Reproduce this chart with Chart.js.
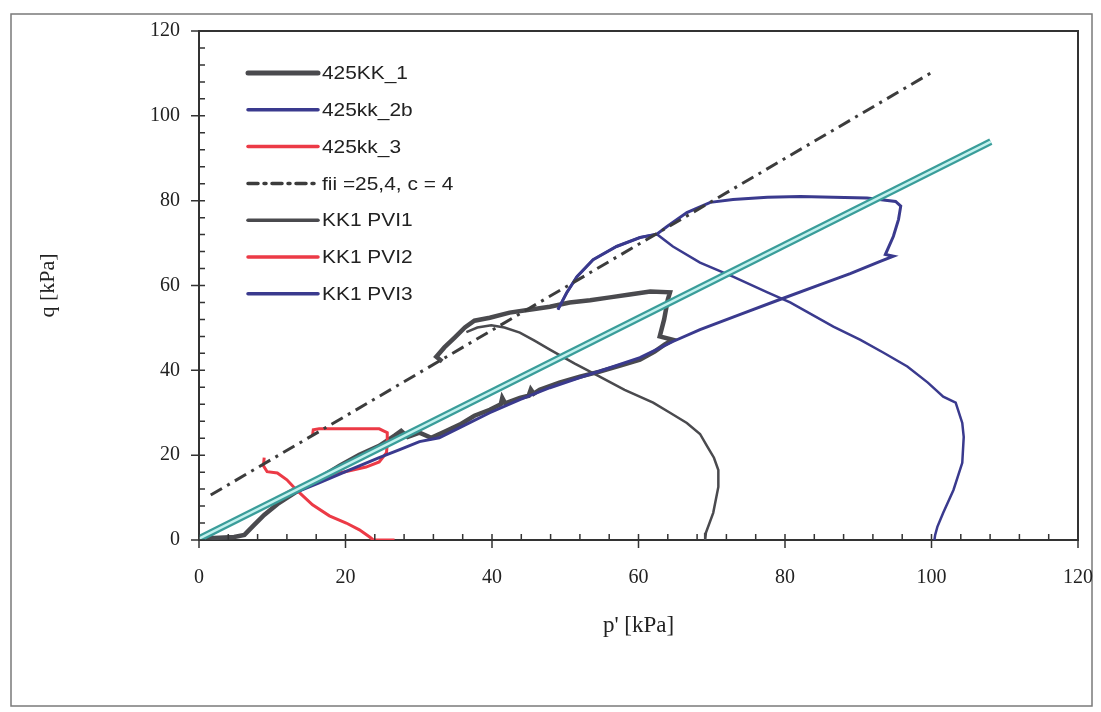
<!DOCTYPE html>
<html>
<head>
<meta charset="utf-8">
<script src="https://cdn.jsdelivr.net/npm/chart.js@4/dist/chart.umd.min.js"></script>
<style>
  html, body { margin: 0; padding: 0; background: #fff; }
  #wrap { width: 1101px; height: 712px; }
</style>
</head>
<body>
<div id="wrap"><canvas id="chart" width="1101" height="712"></canvas></div>
<script>
// p' [kPa], q [kPa] pairs
const kk1_425 = [[0.7,0.7],[2.1,0.5],[4.8,0.7],[6.2,1.2],[7.5,3.5],[8.9,5.9],[10.9,8.7],[13.7,11.8],[16.4,14.6],[19.2,17.5],[21.9,20.1],[24.6,22.2],[26.7,24.6],[27.6,25.7],[28.5,24.3],[30.1,25.3],[31.7,24.1],[33.5,25.5],[35.6,27.2],[37.6,29.3],[39.7,30.7],[41.2,32.0],[41.4,33.5],[41.8,32.2],[43.8,33.5],[45.0,34.0],[45.3,35.5],[45.7,34.5],[46.5,35.4],[49.2,37.1],[52.0,38.5],[54.7,39.7],[57.5,41.1],[60.2,42.5],[62.2,44.4],[63.6,46.1],[64.7,47.2],[62.9,48.0],[63.5,52.0],[64.0,56.7],[64.3,58.4],[61.6,58.6],[58.8,57.9],[56.1,57.2],[53.4,56.5],[50.6,56.0],[47.9,55.0],[45.1,54.3],[42.4,53.6],[39.7,52.4],[37.6,51.7],[36.3,50.1],[34.9,47.7],[33.5,45.4],[32.4,43.2],[33.2,42.1]];
const kk2b_425 = [[0,0],[2.1,1.7],[4.8,4.3],[8.2,7.6],[12.3,10.6],[16.4,13.5],[20.5,16.5],[24.6,19.4],[27.4,21.3],[30.1,23.2],[32.8,24.1],[35.6,26.5],[39.7,30.0],[43.8,33.1],[47.9,35.9],[52.0,38.3],[56.1,40.6],[60.2,43.0],[64.7,46.8],[68.4,49.6],[73.9,53.2],[79.3,56.7],[84.8,60.2],[88.9,62.8],[93.0,65.7],[94.8,66.9],[93.7,67.3],[94.8,71.6],[95.5,75.6],[95.8,78.7],[95.1,79.8],[91.2,80.6],[86.6,80.8],[82.1,81.0],[77.6,80.8],[72.9,80.3],[69.8,79.6],[66.6,77.2],[63.9,73.9],[62.5,72.1],[60.2,71.3],[57.0,69.2],[53.8,66.1],[51.6,62.1],[50.2,58.3],[49.0,54.3]];
const kk3_425 = [[8.9,19.4],[8.8,17.5],[9.3,16.1],[10.7,15.8],[12.0,14.2],[13.3,11.8],[15.5,8.3],[17.8,5.7],[20.1,4.0],[21.9,2.4],[23.3,0.7],[23.8,0],[26.7,0]];
const fiiLine = [[1.6,10.6],[100.3,110.5]];
const pvi1 = [[36.5,49.0],[38.0,50.1],[39.9,50.6],[41.7,50.1],[43.8,48.9],[45.8,47.0],[47.9,44.9],[51.3,41.6],[54.7,38.5],[58.1,35.4],[62.0,32.4],[64.3,30.0],[66.6,27.6],[68.4,25.0],[69.4,22.0],[70.3,19.4],[70.9,16.5],[70.9,12.5],[70.2,6.4],[69.2,1.7],[69.1,0]];
const pvi2 = [[0.7,0.5],[2.3,2.4],[5.1,4.7],[8.6,7.8],[12.7,11.8],[16.4,14.2],[19.2,15.8],[22.8,17.2],[24.6,18.4],[25.6,20.6],[25.7,22.9],[25.7,25.3],[24.6,26.2],[21.9,26.2],[19.2,26.2],[16.4,26.2],[15.6,26.0],[15.5,24.6]];
const pvi3 = [[49.0,54.3],[50.2,58.3],[51.6,62.1],[53.8,66.1],[57.0,69.2],[60.2,71.3],[62.5,72.1],[64.7,69.2],[68.4,65.4],[72.9,62.1],[77.6,58.4],[80.7,56.0],[86.6,50.3],[90.3,47.2],[93.4,44.2],[96.7,40.9],[99.5,37.1],[101.6,33.8],[103.3,32.4],[104.2,27.6],[104.4,24.3],[104.2,18.2],[103.0,11.8],[101.6,6.4],[100.8,3.1],[100.5,1.2],[100.4,0]];
const k0Line = [[0,0.3],[108.1,93.9]];

const seriesLabels = ['425KK_1', '425kk_2b', '425kk_3', 'fii =25,4, c = 4', 'KK1 PVI1', 'KK1 PVI2', 'KK1 PVI3'];
const axisTicks = [0, 20, 40, 60, 80, 100, 120];

const toXY = arr => arr.map(([x, y]) => ({ x, y }));

const GRAY = '#4a4a4e', NAVY = '#3a3a8e', RED = '#ec3a46';

function lineSet(label, data, color, width, order, extra) {
    return Object.assign({
        label: label,
        data: toXY(data),
        showLine: true,
        borderColor: color,
        backgroundColor: color,
        borderWidth: width,
        pointRadius: 0,
        tension: 0,
        order: order
    }, extra || {});
}

const datasets = [
    lineSet(seriesLabels[0], kk1_425, GRAY, 4.5, 7, { legendWidth: 5 }),
    lineSet(seriesLabels[1], kk2b_425, NAVY, 3, 5),
    lineSet(seriesLabels[2], kk3_425, RED, 3, 6),
    lineSet(seriesLabels[3], fiiLine, '#3c3c3c', 3, 3, { borderDash: [13, 6, 3, 6] }),
    lineSet(seriesLabels[4], pvi1, GRAY, 2.5, 6),
    lineSet(seriesLabels[5], pvi2, RED, 3, 6),
    lineSet(seriesLabels[6], pvi3, NAVY, 2.5, 4),
    // K0 double line (not in legend)
    lineSet('', k0Line, '#3a9d9a', 7, 1, { noLegend: true }),
    lineSet('', k0Line, '#c4f2ef', 2.5, 0, { noLegend: true })
];

// outer frame of the scanned page
const pageFrame = {
    id: 'pageFrame',
    beforeDraw(chart) {
        const ctx = chart.ctx;
        ctx.save();
        ctx.fillStyle = '#fff';
        ctx.fillRect(0, 0, chart.width, chart.height);
        ctx.strokeStyle = '#7a7a7a';
        ctx.lineWidth = 1.5;
        ctx.strokeRect(11, 14, 1081, 692);
        ctx.restore();
    }
};

// major/minor tick marks + top and right border of the plot
const axisDecor = {
    id: 'axisDecor',
    afterDraw(chart) {
        const { ctx, chartArea: a, scales: { x, y } } = chart;
        ctx.save();
        ctx.strokeStyle = '#333';
        ctx.lineWidth = 1.5;
        ctx.beginPath();
        for (let v = 0; v <= 120; v += 4) {
            const major = v % 20 === 0;
            const px = x.getPixelForValue(v);
            ctx.moveTo(px, a.bottom - 6);
            ctx.lineTo(px, a.bottom + (major ? 8 : 0));
            const py = y.getPixelForValue(v);
            ctx.moveTo(a.left + 6, py);
            ctx.lineTo(a.left - (major ? 8 : 0), py);
        }
        ctx.stroke();
        ctx.lineWidth = 2;
        ctx.beginPath();
        ctx.moveTo(a.left, a.top);
        ctx.lineTo(a.right, a.top);
        ctx.lineTo(a.right, a.bottom);
        ctx.stroke();
        ctx.restore();
    }
};

// legend inside the plot, top left (text a bit wide, like the scan)
const insideLegend = {
    id: 'insideLegend',
    afterDraw(chart) {
        const ctx = chart.ctx;
        const x0 = 248, x1 = 318, tx = 322, y0 = 73, gap = 36.8;
        ctx.save();
        ctx.font = '19px "Liberation Sans", Arial, sans-serif';
        ctx.textBaseline = 'middle';
        ctx.fillStyle = '#222';
        let row = 0;
        chart.data.datasets.forEach(ds => {
            if (ds.noLegend) return;
            const yy = y0 + row * gap;
            ctx.strokeStyle = ds.borderColor;
            ctx.lineWidth = ds.legendWidth || 3.5;
            ctx.lineCap = 'round';
            ctx.setLineDash(ds.borderDash ? [10, 6, 2, 6] : []);
            ctx.beginPath();
            ctx.moveTo(x0, yy);
            ctx.lineTo(x1, yy);
            ctx.stroke();
            ctx.setLineDash([]);
            ctx.save();
            ctx.translate(tx, yy + 1);
            ctx.scale(1.1, 1);
            ctx.fillText(ds.label, 0, 0);
            ctx.restore();
            row++;
        });
        ctx.restore();
    }
};

const serif = '"Liberation Serif", "Times New Roman", serif';

new Chart(document.getElementById('chart'), {
    type: 'scatter',
    data: { datasets: datasets },
    options: {
        responsive: false,
        animation: false,
        layout: { padding: { left: 0, right: 23, top: 31, bottom: 0 } },
        plugins: { legend: { display: false }, tooltip: { enabled: false } },
        scales: {
            x: {
                type: 'linear', min: 0, max: 120,
                afterFit(s) { s.height = 172; s.paddingLeft = 0; s.paddingRight = 0; },
                afterBuildTicks(s) { s.ticks = axisTicks.map(v => ({ value: v })); },
                grid: { display: false, drawTicks: false },
                border: { display: true, color: '#333', width: 2 },
                ticks: { padding: 26, color: '#222', font: { family: serif, size: 20 } },
                title: { display: true, text: "p' [kPa]", color: '#222', font: { family: serif, size: 23 }, padding: { bottom: 72 } }
            },
            y: {
                type: 'linear', min: 0, max: 120,
                afterFit(s) { s.width = 199; s.paddingTop = 0; s.paddingBottom = 0; },
                afterBuildTicks(s) { s.ticks = axisTicks.map(v => ({ value: v })); },
                grid: { display: false, drawTicks: false },
                border: { display: true, color: '#333', width: 2 },
                ticks: { padding: 19, color: '#222', font: { family: serif, size: 20 } },
                title: { display: true, text: 'q [kPa]', color: '#222', font: { family: serif, size: 22 }, padding: { top: 35 } }
            }
        }
    },
    plugins: [pageFrame, axisDecor, insideLegend]
});
</script>
</body>
</html>
